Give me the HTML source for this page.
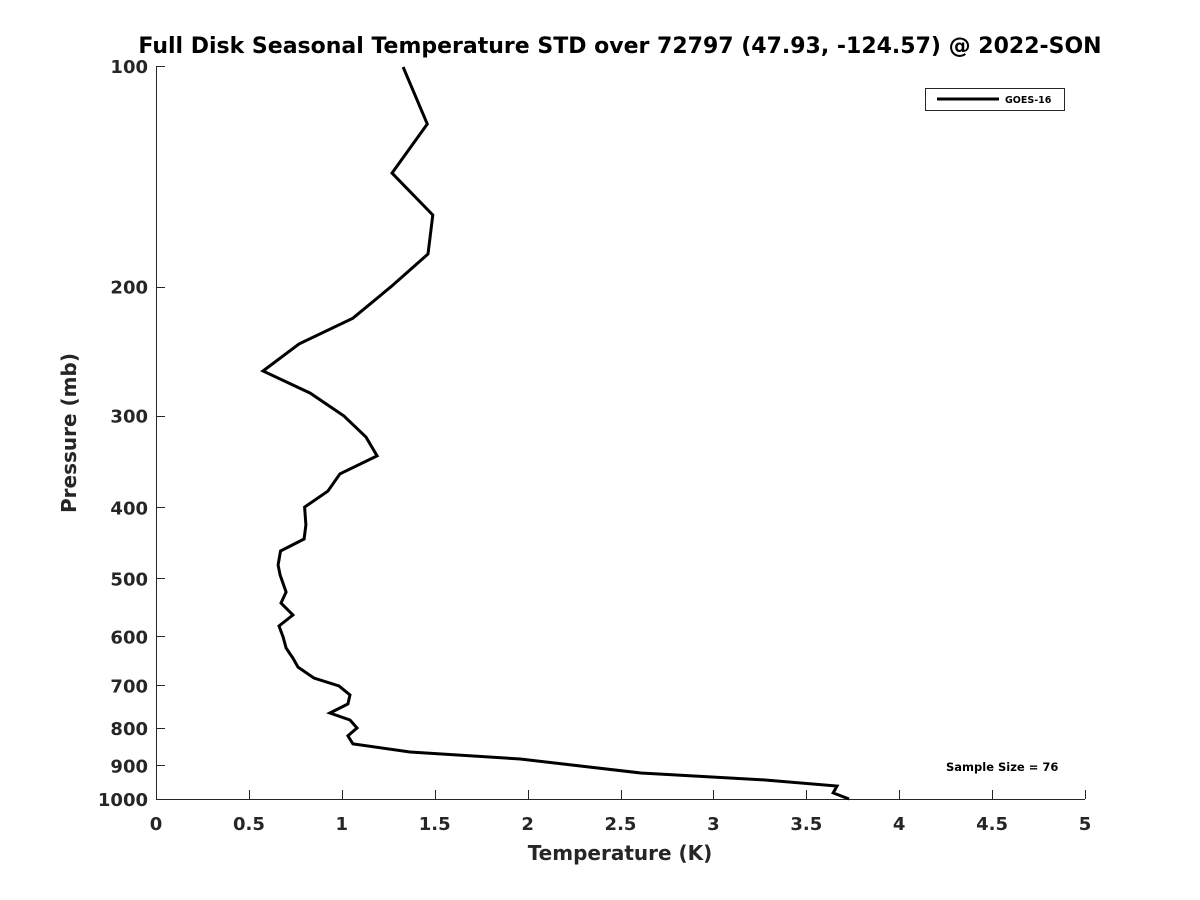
<!DOCTYPE html>
<html><head><meta charset="utf-8"><style>
html,body{margin:0;padding:0;background:#fff;}
svg{display:block;font-family:"DejaVu Sans","Liberation Sans",sans-serif;}
</style></head><body>
<svg id="chart" width="1200" height="900" xmlns="http://www.w3.org/2000/svg">
<text x="620" y="53" text-anchor="middle" font-size="22" font-weight="bold" fill="#000">Full Disk Seasonal Temperature STD over 72797 (47.93, -124.57) @ 2022-SON</text>
<g id="axes"></g>
<path id="line" fill="none" stroke="#000" stroke-width="3" stroke-linejoin="miter"/>
<text x="620" y="860" text-anchor="middle" font-size="20" font-weight="bold" fill="#262626">Temperature (K)</text>
<text transform="translate(76,433) rotate(-90)" text-anchor="middle" font-size="20" font-weight="bold" fill="#262626">Pressure (mb)</text>
<g>
<rect x="925.5" y="88.5" width="139" height="22" fill="#fff" stroke="#262626" stroke-width="1"/>
<line x1="937" y1="99" x2="999" y2="99" stroke="#000" stroke-width="3"/>
<text x="1005" y="103" font-size="9.5" font-weight="bold" fill="#000">GOES-16</text>
</g>
<text x="946" y="771" font-size="11.5" font-weight="bold" fill="#000">Sample Size = 76</text>
</svg>
<script>
const temps = [1.33,1.46,1.27,1.49,1.464,1.265,1.06,0.77,0.576,0.83,1.012,1.13,1.19,0.99,0.925,0.80,0.807,0.797,0.67,0.657,0.668,0.70,0.673,0.737,0.662,0.684,0.70,0.737,0.764,0.85,0.985,1.044,1.033,0.936,1.044,1.082,1.033,1.06,1.367,1.96,2.61,3.27,3.665,3.645,3.73];
const pressures = [100.3,120,140,159.7,180.5,200,220.8,239.4,260.7,279.4,300.3,320.8,340.4,360.2,380.1,399.7,422.9,441.9,458.9,479.5,494.8,521.9,540.3,561.1,580.8,601.2,622.3,642.3,660.7,683.9,701.3,721.4,742,763.3,780.2,800,820,841,862.8,882,921.5,941.9,960,981,1000];
const xTicks = [0,0.5,1,1.5,2,2.5,3,3.5,4,4.5,5];
const xTickLabels = ["0","0.5","1","1.5","2","2.5","3","3.5","4","4.5","5"];
const yTicks = [100,200,300,400,500,600,700,800,900,1000];
const yTickLabels = ["100","200","300","400","500","600","700","800","900","1000"];
const X0=156,X1=1085,Y0=66,Y1=799;
const xs=t=>X0+(t-0)/(5-0)*(X1-X0);
const ys=p=>Y0+(Math.log10(p)-2)/(3-2)*(Y1-Y0);
const NS="http://www.w3.org/2000/svg";
const ax=document.getElementById('axes');
function mk(tag,attrs){const e=document.createElementNS(NS,tag);for(const k in attrs)e.setAttribute(k,attrs[k]);ax.appendChild(e);return e;}
let e=mk('line',{x1:X0,y1:Y1+0.5,x2:X1,y2:Y1+0.5,stroke:'#262626','stroke-width':1});


e=mk('line',{x1:X0+0.5,y1:Y0,x2:X0+0.5,y2:Y1,stroke:'#262626','stroke-width':1});


xTicks.forEach((t,i)=>{
  const x=Math.round(xs(t))+0.5;
  let l=mk('line',{x1:x,y1:Y1,x2:x,y2:Y1-9,stroke:'#262626','stroke-width':1});
  
  
  let tx=mk('text',{x:xs(t),y:Y1+31,'text-anchor':'middle','font-size':18,'font-weight':'bold',fill:'#262626'});
  tx.textContent=xTickLabels[i];
  
  
});
yTicks.forEach((p,i)=>{
  const y=Math.round(ys(p))+0.5;
  let l=mk('line',{x1:X0,y1:y,x2:X0+9,y2:y,stroke:'#262626','stroke-width':1});
  
  
  let tx=mk('text',{x:X0-8,y:ys(p)+7,'text-anchor':'end','font-size':18,'font-weight':'bold',fill:'#262626'});
  tx.textContent=yTickLabels[i];
  
  
});
document.getElementById('line').setAttribute('d',temps.map((t,i)=>(i?'L':'M')+xs(t).toFixed(1)+','+ys(pressures[i]).toFixed(1)).join(''));
</script>
</body></html>
